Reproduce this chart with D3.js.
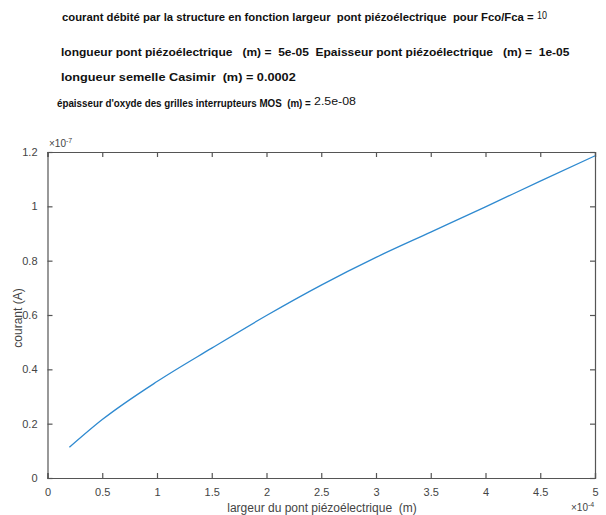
<!DOCTYPE html>
<html>
<head>
<meta charset="utf-8">
<script src="https://cdn.jsdelivr.net/npm/d3@7"></script>
<style>
  html, body { margin: 0; padding: 0; background: #fff; }
  svg { display: block; font-family: "Liberation Sans", Arial, sans-serif; }
  svg text { white-space: pre; }
</style>
</head>
<body>
<svg id="chart" width="606" height="515"></svg>
<script>
// Bridge width (x 1e-4 m) and delivered current (x 1e-7 A)
const largeur = [0.2, 0.5, 1.0, 1.5, 2.0, 2.5, 3.0, 3.5, 4.0, 4.5, 5.0];
const courant = [0.113, 0.215, 0.355, 0.478, 0.598, 0.71, 0.812, 0.905, 0.998, 1.093, 1.186];

const xTicks = [0, 0.5, 1, 1.5, 2, 2.5, 3, 3.5, 4, 4.5, 5];
const yTicks = [0, 0.2, 0.4, 0.6, 0.8, 1, 1.2];

const svg = d3.select("#chart");
const plotL = 47.5, plotR = 595, plotT = 152, plotB = 478;

const x = d3.scaleLinear().domain([0, 5]).range([plotL, plotR]);
const y = d3.scaleLinear().domain([0, 1.2]).range([plotB, plotT]);

const axisColor = "#555";
const textColor = "#444";

// Writes a text of a given width at a given glyph height: the font size is
// chosen to fit the width, and a vertical scale restores the height.
function fittedText(parent, xp, yp, str, w, size, weight) {
  const t = parent.append("text").attr("font-size", size).attr("font-weight", weight).text(str);
  const natural = t.node().getComputedTextLength();
  const fs = size * w / natural;
  t.attr("font-size", fs)
    .attr("transform", `translate(${xp},${yp}) scale(1,${size / fs})`);
  return t;
}

// Header text block: bold label text followed by an optional plain value
const header = svg.append("g").attr("fill", "#111");
function headerLine(xp, yp, main, w, tail, tailW) {
  fittedText(header, xp, yp, main, w, 11.5, "bold");
  if (tail) fittedText(header, xp + w + 3, yp - 2, tail, tailW, 10.5, "normal");
}
headerLine(62, 21, "courant débité par la structure en fonction largeur  pont piézoélectrique  pour Fco/Fca =", 472, "10", 10);
headerLine(61, 56, "longueur pont piézoélectrique   (m) =  5e-05  Epaisseur pont piézoélectrique   (m) =  1e-05", 509);
headerLine(61, 81, "longueur semelle Casimir  (m) = 0.0002", 235);
headerLine(57, 107, "épaisseur d'oxyde des grilles interrupteurs MOS  (m) =", 254, "2.5e-08", 42);

// Axes with inward ticks on all four sides
const gx = svg.append("g").attr("transform", `translate(0,${plotB})`)
  .call(d3.axisBottom(x).tickValues(xTicks).tickSize(-5).tickPadding(10).tickFormat(d3.format("~g")));
const gy = svg.append("g").attr("transform", `translate(${plotL},0)`)
  .call(d3.axisLeft(y).tickValues(yTicks).tickSize(-5).tickPadding(10).tickFormat(d3.format("~g")));
const gxTop = svg.append("g").attr("transform", `translate(0,${plotT})`)
  .call(d3.axisTop(x).tickValues(xTicks).tickSize(-5).tickFormat(""));
const gyRight = svg.append("g").attr("transform", `translate(${plotR},0)`)
  .call(d3.axisRight(y).tickValues(yTicks).tickSize(-5).tickFormat(""));

[gx, gy, gxTop, gyRight].forEach(g => {
  g.select(".domain").attr("stroke", axisColor).attr("stroke-width", 1.2);
  g.selectAll(".tick line").attr("stroke", axisColor).attr("stroke-width", 1.2);
  g.selectAll(".tick text").attr("fill", textColor).attr("font-size", 11)
    .attr("font-family", "'Liberation Sans', Arial, sans-serif");
});

// Exponent multipliers
const mult = (xp, yp, exp) => {
  const t = svg.append("text").attr("x", xp).attr("y", yp).attr("fill", textColor).attr("font-size", 10);
  t.append("tspan").text("×10");
  t.append("tspan").attr("dy", -4).attr("font-size", 7).text(exp);
};
mult(49, 147, "-7");
mult(571, 511, "-4");

// Axis titles
svg.append("text").attr("x", 322).attr("y", 512).attr("text-anchor", "middle")
  .attr("fill", textColor).attr("font-size", 12).text("largeur du pont piézoélectrique  (m)");
svg.append("text").attr("transform", `translate(22,${(plotT + plotB) / 2 + 3}) rotate(-90)`)
  .attr("text-anchor", "middle").attr("fill", textColor).attr("font-size", 12).text("courant (A)");

// Current curve
const line = d3.line().x((d, i) => x(largeur[i])).y(d => y(d)).curve(d3.curveMonotoneX);
svg.append("path").datum(courant).attr("d", line)
  .attr("fill", "none").attr("stroke", "#2f8ad0").attr("stroke-width", 1.3);
</script>
</body>
</html>
